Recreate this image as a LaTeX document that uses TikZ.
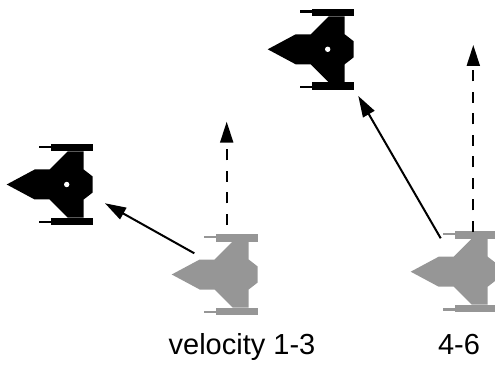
\documentclass[tikz,border=0pt]{standalone}
\usepackage{fontspec}
\setmainfont{Liberation Sans}
\usetikzlibrary{arrows.meta}
\definecolor{ghost}{RGB}{150,150,150}
\tikzset{
  % fighter seen from above, nose pointing left, origin at the cockpit
  ship/.pic={
    \fill (-60,0) -- (-32,-15) -- (-17,-15) -- (1,-33) -- (17,-33) -- (17,-15)
          -- (26,-8) -- (26,8) -- (17,15) -- (17,33) -- (1,33) -- (-17,15)
          -- (-32,15) -- cycle;
    \fill (-16,-40.5) rectangle (26,-33);
    \fill (-16,33) rectangle (26,40.5);
    \fill (-28,-38.8) rectangle (-16,-36.6);
    \fill (-28,36.6) rectangle (-16,38.8);
  },
  cockpit/.pic={\fill[white] (0,0) circle (2.7pt);},
  move/.style={line width=2pt, -{Triangle[length=21pt,width=13pt]}},
  drift/.style={move, dash pattern=on 11pt off 10.5pt},
  label/.style={font=\fontsize{29}{34}\selectfont, anchor=base, inner sep=0pt}
}
\begin{document}
\begin{tikzpicture}[x=1pt,y=-1pt]
  \clip (0,0) rectangle (495,366);

  % ships before the move (grey) and after it (black)
  \pic[ghost] at (231.7,274.5) {ship};
  \pic[ghost] at (470.7,271.7) {ship};
  \pic[black] at (66.7,184.5) {ship};
  \pic at (66.7,184.5) {cockpit};
  \pic[black] at (327.7,49.3) {ship};
  \pic at (327.7,49.3) {cockpit};

  % ends of the movement arrows
  \coordinate (s1) at (194.3,253.3);
  \coordinate (e1) at (105,203.3);
  \coordinate (s2) at (440.7,238.3);
  \coordinate (e2) at (358.3,96);
  \coordinate (f1) at (226.7,225);
  \coordinate (g1) at (226.7,121.7);
  \coordinate (f2) at (473.3,232);
  \coordinate (g2) at (473.3,45);

  \draw[move] (s1) -- (e1);
  \draw[move] (s2) -- (e2);
  \draw[drift] (f1) -- (g1);
  \draw[drift] (f2) -- (g2);

  \node[label] (v13) at (242,354) {velocity 1-3};
  \node[label] (v46) at (459,354) {4-6};
\end{tikzpicture}
\end{document}
